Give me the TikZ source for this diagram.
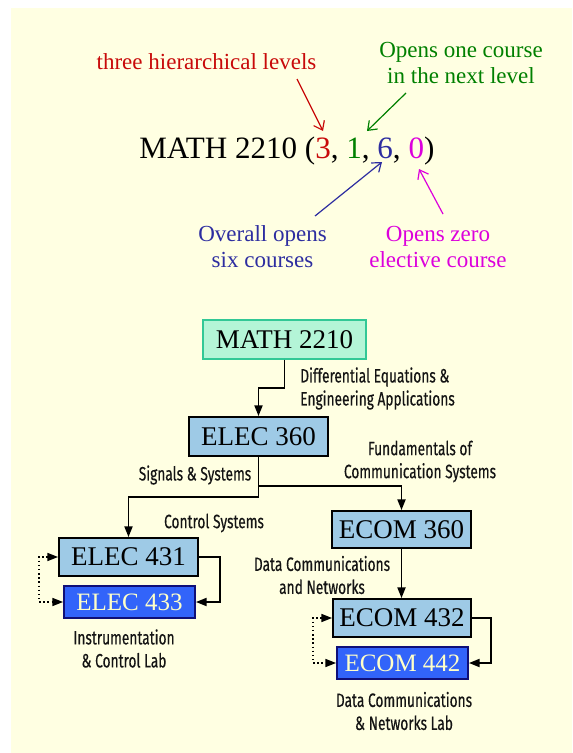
\documentclass[tikz,border=0pt]{standalone}
\usepackage{fontspec}
\setmainfont{Liberation Serif}
\newfontfamily\labfont[FakeStretch=0.71,FakeBold=0.4]{Fira Sans}
\usetikzlibrary{arrows.meta}
\definecolor{bg}{RGB}{255,255,226}
\definecolor{cred}{RGB}{200,10,10}
\definecolor{cgreen}{RGB}{0,128,0}
\definecolor{cblue}{RGB}{45,45,160}
\definecolor{cmag}{RGB}{220,0,220}
\definecolor{mathfill}{RGB}{180,245,215}
\definecolor{mathdraw}{RGB}{50,200,150}
\definecolor{lblue}{RGB}{158,202,230}
\definecolor{dblue}{RGB}{50,100,250}
\definecolor{navy}{RGB}{15,15,120}
\definecolor{ltext}{RGB}{255,255,200}
\definecolor{labc}{RGB}{20,20,20}
\begin{document}
\begin{tikzpicture}[x=0.75pt,y=-0.75pt,
  ann/.style={inner sep=0pt, align=center, font=\fontsize{17.25}{19.5}\selectfont},
  annarrow/.style={-{Straight Barb[length=6pt,width=9pt]}, line width=0.9pt},
  box/.style={draw=black, line width=1.4pt, inner sep=0pt, fill=lblue, font=\fontsize{20.25}{24}\selectfont},
  labbox/.style={box, fill=dblue, draw=navy, text=ltext, font=\fontsize{18.75}{22}\selectfont},
  conn/.style={line width=1.4pt, -{Triangle[length=8pt,width=6pt]}},
  dotconn/.style={line width=1.1pt, dotted, {Triangle[length=8pt,width=6pt]}-{Triangle[length=8pt,width=6pt]}},
  lab/.style={inner sep=0pt, align=center, text=labc, font=\labfont\fontsize{14.5}{17.25}\selectfont}
]
\useasboundingbox (0,0) rectangle (572,753);
\fill[bg] (11,8) rectangle (572,753);

% ---- top explanation ----
\node[ann, text=cred] (t1) at (206.5,62) {three hierarchical levels};
\node[ann, text=cgreen] (t2) at (461,63) {Opens one course\\in the next level};
\node[ann, text=cblue] (t3) at (262.5,247) {Overall opens\\six courses};
\node[ann, text=cmag] (t4) at (438,247) {Opens zero\\elective course};
\node[anchor=base west, inner sep=0pt, font=\fontsize{23.3}{28}\selectfont] (code) at (139,158)
  {MATH 2210 (\textcolor{cred}{3}, \textcolor{cgreen}{1}, \textcolor{cblue}{6}, \textcolor{cmag}{0})};

\coordinate (a1s) at (297,79);  \coordinate (a1e) at (323,131);
\coordinate (a2s) at (406,93);  \coordinate (a2e) at (367,131);
\coordinate (a3s) at (315,216); \coordinate (a3e) at (382,162);
\coordinate (a4s) at (443,214); \coordinate (a4e) at (419,169);
\draw[annarrow, cred] (a1s) -- (a1e);
\draw[annarrow, cgreen] (a2s) -- (a2e);
\draw[annarrow, cblue] (a3s) -- (a3e);
\draw[annarrow, cmag] (a4s) -- (a4e);

% ---- course tree ----
\node[box, fill=mathfill, draw=mathdraw, line width=1.1pt, minimum width=122.25pt, minimum height=29.25pt] (m2210) at (284.5,339.5) {MATH 2210};
\node[box, minimum width=104.25pt, minimum height=29.25pt] (e360) at (258.5,436.5) {ELEC 360};
\node[box, minimum width=104.25pt, minimum height=28.5pt] (e431) at (128.5,557) {ELEC 431};
\node[labbox, minimum width=98.25pt, minimum height=24pt] (e433) at (129.5,602) {ELEC 433};
\node[box, minimum width=104.25pt, minimum height=27.75pt] (c360) at (401.5,529.5) {ECOM 360};
\node[box, minimum width=103.5pt, minimum height=28.5pt] (c432) at (402,618) {ECOM 432};
\node[labbox, minimum width=98.25pt, minimum height=24pt] (c442) at (402.5,663) {ECOM 442};

\coordinate (j1) at (0,388);
\coordinate (j2) at (0,497);
\coordinate (j3) at (0,486);
\draw[conn] (m2210.south) -- (m2210.south |- j1) -| (e360.north);
\draw[conn] (e360.south) -- (e360.south |- j2) -| (e431.north);
\draw[conn] (e360.south |- j3) -| (c360.north);
\draw[conn] (c360.south) -- (c360.south |- c432.north);
\draw[conn] (e431.east) -- ++(21,0) |- (e433.east);
\draw[dotconn] (e431.west) -- ++(-19,0) |- (e433.west);
\draw[conn] (c432.east) -- ++(19,0) |- (c442.east);
\draw[dotconn] (c432.west) -- ++(-19,0) |- (c442.west);

\node[lab, anchor=west, align=left] (l1) at (300,388.5) {Differential Equations \&\\Engineering Applications};
\node[lab] (l2) at (195,475) {Signals \& Systems};
\node[lab] (l3) at (420,461.5) {Fundamentals of\\Communication Systems};
\node[lab] (l4) at (214,523) {Control Systems};
\node[lab] (l5) at (322,575) {Data Communications\\and Networks};
\node[lab] (l6) at (124,648.5) {Instrumentation\\\& Control Lab};
\node[lab] (l7) at (404,711) {Data Communications\\\& Networks Lab};
\end{tikzpicture}
\end{document}
